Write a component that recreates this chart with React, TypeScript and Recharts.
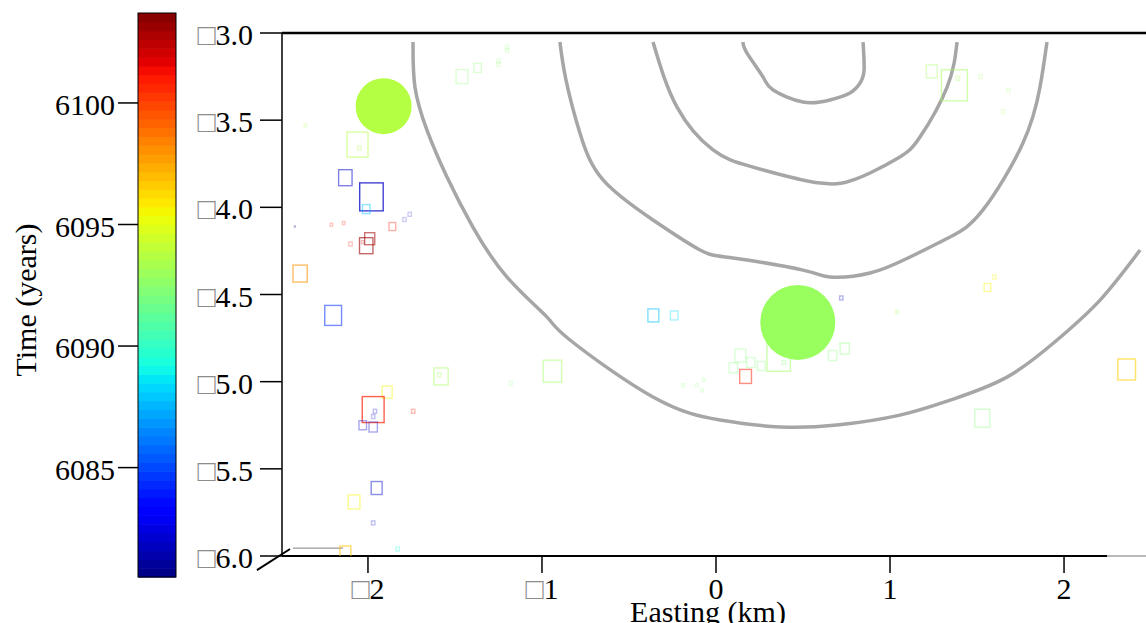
import React from 'react';
import {
  ComposedChart, Scatter, Line, XAxis, YAxis,
  ReferenceLine, Customized,
} from 'recharts';

// event catalogue: easting (km), depth (km, negative down), origin time (years),
// magnitude and location weight
const EASTING = [
  -2.36, -2.06, -2.05, -2.13, -1.98, -2.01, -1.76, -1.79, -1.86, -2.21,
  -2.14, -2.42, -1.99, -2.01, -2.10, -2.03, -2.39, -2.20, -1.58, -1.59,
  -1.89, -1.97, -1.96, -1.97, -2.03, -1.97, -1.74, -1.95, -2.08, -1.97,
  -2.13, -1.83, -1.18, -0.94, -1.46, -1.37, -1.25, -1.25, -1.20, -1.20,
  -0.36, -0.24, 0.36, 0.14, 0.20, 0.10, 0.26, 0.17, 0.67, 0.74,
  0.39, -0.19, -0.11, -0.07, -0.08, 0.72, 1.24, 1.37, 1.39, 1.52,
  1.68, 1.65, 1.56, 1.60, 1.04, 2.36, 1.53,
];
const DEPTH = [
  -3.53, -3.64, -3.66, -3.83, -3.94, -4.01, -4.04, -4.07, -4.11, -4.10,
  -4.09, -4.11, -4.18, -4.22, -4.21, -4.20, -4.38, -4.62, -4.97, -4.96,
  -5.06, -5.16, -5.17, -5.20, -5.25, -5.26, -5.17, -5.61, -5.69, -5.81,
  -5.98, -5.96, -5.01, -4.94, -3.25, -3.20, -3.16, -3.18, -3.08, -3.10,
  -4.62, -4.62, -4.86, -4.85, -4.89, -4.92, -4.91, -4.97, -4.85, -4.81,
  -4.89, -5.02, -5.02, -4.99, -5.05, -4.52, -3.22, -3.30, -3.26, -3.25,
  -3.33, -3.45, -4.46, -4.40, -4.60, -4.93, -5.21,
];
const TIME = [
  6093.5, 6093.7, 6093.7, 6082.0, 6081.9, 6087.8, 6082.0, 6082.0, 6100.9, 6100.9,
  6100.9, 6080.5, 6103.0, 6103.0, 6100.9, 6103.0, 6098.1, 6084.4, 6093.2, 6093.2,
  6095.5, 6100.9, 6082.0, 6082.0, 6082.0, 6082.0, 6100.9, 6082.0, 6095.5, 6082.0,
  6097.0, 6089.5, 6092.0, 6093.0, 6092.5, 6092.5, 6092.5, 6092.5, 6092.5, 6092.5,
  6087.8, 6088.3, 6093.0, 6092.3, 6092.3, 6092.3, 6092.3, 6100.9, 6092.3, 6092.3,
  6092.3, 6092.3, 6092.3, 6092.3, 6092.3, 6082.0, 6093.0, 6093.2, 6093.2, 6093.2,
  6093.2, 6093.2, 6095.5, 6095.5, 6093.2, 6096.5, 6092.3,
];
const MAGNITUDE = [
  0.2, 2.4, 0.3, 1.5, 2.7, 0.8, 0.3, 0.3, 0.7, 0.2,
  0.2, 0.0, 1.1, 1.5, 0.3, 0.2, 1.6, 1.9, 1.6, 0.3,
  1.1, 2.5, 0.3, 0.3, 0.8, 0.9, 0.3, 1.2, 1.3, 0.3,
  1.2, 0.3, 0.3, 2.1, 1.3, 0.8, 0.3, 0.3, 0.3, 0.3,
  1.2, 0.8, 2.7, 1.2, 0.9, 0.9, 0.8, 1.3, 0.9, 1.0,
  0.3, 0.2, 0.2, 0.2, 0.2, 0.3, 1.2, 3.0, 0.3, 0.3,
  0.3, 0.3, 0.7, 0.3, 0.2, 2.0, 1.7,
];
const WEIGHT = [
  0.25, 0.5, 0.3, 0.5, 0.75, 0.45, 0.2, 0.2, 0.35, 0.25,
  0.25, 0.3, 0.55, 0.6, 0.25, 0.25, 0.6, 0.55, 0.45, 0.3,
  0.45, 0.7, 0.25, 0.25, 0.35, 0.35, 0.3, 0.45, 0.45, 0.25,
  0.6, 0.3, 0.2, 0.45, 0.3, 0.3, 0.2, 0.2, 0.2, 0.2,
  0.5, 0.35, 0.5, 0.3, 0.3, 0.3, 0.3, 0.5, 0.3, 0.35,
  0.3, 0.2, 0.2, 0.2, 0.2, 0.3, 0.35, 0.5, 0.3, 0.2,
  0.2, 0.2, 0.4, 0.3, 0.25, 0.6, 0.35,
];

// the two main shocks
const MAIN_EASTING = [-1.91, 0.47];
const MAIN_DEPTH = [-3.42, -4.66];
const MAIN_TIME = [6093.7, 6092.9];
const MAIN_MAG = [5.6, 7.5];

// gray contours, [easting, depth]
const CONTOUR_1: [number, number][] = [
  [-1.741, -3.052], [-1.730, -3.310], [-1.661, -3.557], [-1.546, -3.826],
  [-1.397, -4.113], [-1.201, -4.400], [-0.971, -4.630], [-0.839, -4.761],
  [-0.362, -5.088], [0.023, -5.220], [0.368, -5.260], [0.695, -5.249],
  [1.057, -5.192], [1.345, -5.106], [1.672, -4.974], [1.960, -4.761],
  [2.207, -4.532], [2.437, -4.245],
];
const CONTOUR_2: [number, number][] = [
  [-0.897, -3.052], [-0.862, -3.270], [-0.782, -3.574], [-0.649, -3.843],
  [-0.362, -4.073], [-0.092, -4.245], [0.098, -4.291], [0.500, -4.360],
  [0.655, -4.400], [0.885, -4.377], [1.115, -4.285], [1.345, -4.170],
  [1.534, -4.015], [1.764, -3.631], [1.862, -3.310], [1.902, -3.052],
];
const CONTOUR_3: [number, number][] = [
  [-0.362, -3.052], [-0.224, -3.425], [-0.017, -3.671], [0.213, -3.769],
  [0.598, -3.861], [0.787, -3.843], [0.885, -3.803], [1.057, -3.711],
  [1.172, -3.597], [1.328, -3.310], [1.385, -3.052],
];
const CONTOUR_4: [number, number][] = [
  [0.155, -3.052], [0.178, -3.115], [0.270, -3.252], [0.328, -3.327],
  [0.500, -3.396], [0.655, -3.384], [0.770, -3.344], [0.828, -3.287],
  [0.851, -3.212], [0.845, -3.052],
];

const X_TICKS = [-2, -1, 0, 1, 2];
const Y_TICKS = [-6, -5.5, -5, -4.5, -4, -3.5, -3];
const TIME_TICKS = [6085, 6090, 6095, 6100];
const TIME_MIN = 6080.5;
const TIME_MAX = 6103.7;

const SERIF: React.CSSProperties = { fontFamily: '"Liberation Serif", "Times New Roman", Times, serif' };
const BOX = '\u25A1';

// matplotlib "jet"
const interp = (pts: number[][], t: number) => {
  for (let i = 1; i < pts.length; i++) {
    if (t <= pts[i][0]) {
      const [x0, y0] = pts[i - 1];
      const [x1, y1] = pts[i];
      return y0 + ((y1 - y0) * (t - x0)) / (x1 - x0);
    }
  }
  return pts[pts.length - 1][1];
};
const JET_R = [[0, 0], [0.35, 0], [0.66, 1], [0.89, 1], [1, 0.5]];
const JET_G = [[0, 0], [0.125, 0], [0.375, 1], [0.64, 1], [0.91, 0], [1, 0]];
const JET_B = [[0, 0.5], [0.11, 1], [0.34, 1], [0.65, 0], [1, 0]];
const jet = (t: number) => {
  const c = Math.max(0, Math.min(1, t));
  const ch = (p: number[][]) => Math.round(interp(p, c) * 255);
  return `rgb(${ch(JET_R)},${ch(JET_G)},${ch(JET_B)})`;
};
const timeColor = (time: number) => jet((time - TIME_MIN) / (TIME_MAX - TIME_MIN));

const events = EASTING.map((x, i) => ({
  x, y: DEPTH[i], time: TIME[i], mag: MAGNITUDE[i], weight: WEIGHT[i],
}));
const mainShocks = MAIN_EASTING.map((x, i) => ({
  x, y: MAIN_DEPTH[i], time: MAIN_TIME[i], mag: MAIN_MAG[i],
}));
const toPoints = (c: [number, number][]) => c.map(([x, y]) => ({ x, y }));
const contours = [CONTOUR_1, CONTOUR_2, CONTOUR_3, CONTOUR_4].map(toPoints);

const EventSquare = (props: any) => {
  const { cx, cy, payload } = props;
  const h = Math.max(1, 1 + payload.mag * 10);
  const w = Math.max(1, h * 0.84);
  return (
    <rect
      x={cx - w / 2} y={cy - h / 2} width={w} height={h}
      fill="none" stroke={timeColor(payload.time)}
      strokeOpacity={payload.weight} strokeWidth={1.4}
    />
  );
};

const MainShock = (props: any) => {
  const { cx, cy, payload } = props;
  return <circle cx={cx} cy={cy} r={payload.mag * 5} fill={timeColor(payload.time)} />;
};

const DepthTick = (props: any) => {
  const { x, y, payload } = props;
  return (
    <text x={x} y={y + 12} textAnchor="end" fontSize={30} style={SERIF}>
      <tspan fill="#8c8c8c">{BOX}</tspan>
      <tspan fill="#000">{Math.abs(payload.value).toFixed(1)}</tspan>
    </text>
  );
};

const EastingTick = (props: any) => {
  const { x, y, payload } = props;
  const v = payload.value;
  return (
    <text x={x} y={y + 26} textAnchor="middle" fontSize={30} style={SERIF}>
      {v < 0 && <tspan fill="#8c8c8c">{BOX}</tspan>}
      <tspan fill="#000">{Math.abs(v)}</tspan>
    </text>
  );
};

// colour bar for origin time, sits left of the depth axis
const CB = { x: 138, y: 13, w: 38, h: 564 };
const BANDS = 64;
const timeToY = (t: number) => CB.y + (CB.h * (TIME_MAX - t)) / (TIME_MAX - TIME_MIN);

const Colorbar = () => {
  const bandH = CB.h / BANDS;
  return (
    <g style={SERIF}>
      {Array.from({ length: BANDS }, (_, i) => (
        <rect
          key={i}
          x={CB.x} y={CB.y + CB.h - (i + 1) * bandH}
          width={CB.w} height={bandH + 0.6}
          fill={jet((i + 0.5) / BANDS)}
        />
      ))}
      <rect x={CB.x} y={CB.y} width={CB.w} height={CB.h} fill="none" stroke="#000" strokeWidth={1} />
      {TIME_TICKS.map((t) => (
        <g key={t}>
          <line x1={CB.x - 20} x2={CB.x} y1={timeToY(t)} y2={timeToY(t)} stroke="#000" strokeWidth={1.5} />
          <text x={CB.x - 23} y={timeToY(t) + 12} textAnchor="end" fontSize={30} style={SERIF} fill="#000">
            {t}
          </text>
        </g>
      ))}
      <text
        x={36} y={300} transform="rotate(-90, 36, 300)"
        textAnchor="middle" fontSize={30} style={SERIF} fill="#000"
      >
        Time (years)
      </text>
      <text x={708} y={622} textAnchor="middle" fontSize={30} style={SERIF} fill="#000">
        Easting (km)
      </text>
    </g>
  );
};

const App = () => (
  <div style={{ position: 'absolute', left: 0, top: 0, width: 1146, height: 623, background: '#fff', overflow: 'hidden' }}>
    <ComposedChart width={1146} height={623} margin={{ top: 33, right: 0, bottom: 0, left: 0 }}>
      <XAxis
        type="number" dataKey="x" domain={[-2.494, 2.471]} ticks={X_TICKS}
        allowDataOverflow height={67} tickSize={17} tickMargin={0}
        axisLine={false} tickLine={{ stroke: '#000', strokeWidth: 1.5 }}
        tick={<EastingTick />} interval={0}
      />
      <YAxis
        type="number" dataKey="y" domain={[-6, -3]} ticks={Y_TICKS}
        allowDataOverflow width={282} tickSize={22} tickMargin={7}
        axisLine={{ stroke: '#000', strokeWidth: 1.5 }}
        tickLine={{ stroke: '#000', strokeWidth: 1.5 }}
        tick={<DepthTick />} interval={0}
      />
      <ReferenceLine y={-3} stroke="#000" strokeWidth={2.5} />
      <ReferenceLine segment={[{ x: -2.494, y: -6 }, { x: 2.247, y: -6 }]} stroke="#000" strokeWidth={2} />
      <ReferenceLine segment={[{ x: 2.247, y: -6 }, { x: 2.471, y: -6 }]} stroke="#777" strokeWidth={1.2} />
      <ReferenceLine
        segment={[{ x: -2.638, y: -6.081 }, { x: -2.448, y: -5.96 }]}
        stroke="#000" strokeWidth={2} ifOverflow="visible"
      />
      <ReferenceLine segment={[{ x: -2.431, y: -5.955 }, { x: -2.144, y: -5.955 }]} stroke="#999" strokeWidth={1.2} />
      <Scatter data={events} shape={<EventSquare />} isAnimationActive={false} />
      {contours.map((c, i) => (
        <Line
          key={i} data={c} dataKey="y" type="natural"
          stroke="#a6a6a6" strokeWidth={3.5} dot={false}
          isAnimationActive={false} activeDot={false}
        />
      ))}
      <Scatter data={mainShocks} shape={<MainShock />} isAnimationActive={false} />
      <Customized component={Colorbar} />
    </ComposedChart>
  </div>
);

export default App;
